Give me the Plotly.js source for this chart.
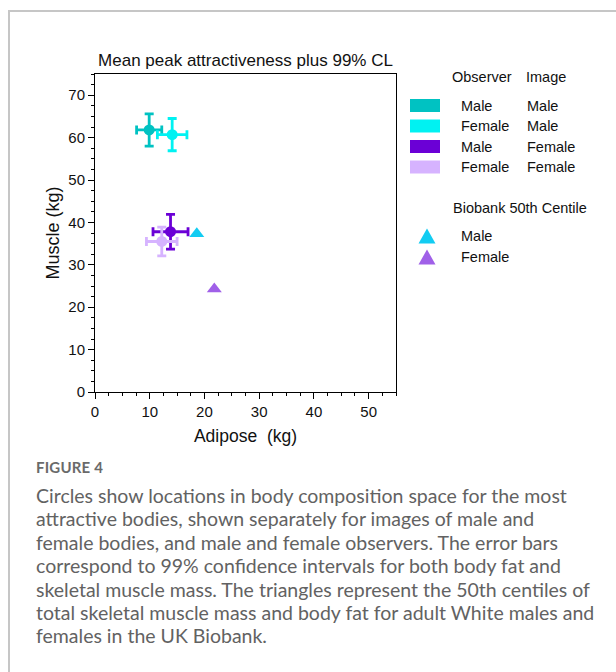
<!DOCTYPE html>
<html>
<head>
<meta charset="utf-8">
<script src="https://cdn.plot.ly/plotly-3.0.1.min.js"></script>
<style>
  html, body { margin:0; padding:0; background:#fff; width:616px; height:672px; overflow:hidden; }
  #frame { position:absolute; left:8px; top:10px; width:700px; height:700px;
           border-left:2px solid #c6c6c6; border-top:2px solid #c6c6c6; }
  #chart { position:absolute; left:0; top:0; width:616px; height:450px; }
  #caption { position:absolute; left:36px; top:457px; font-family:Lato, "Open Sans", sans-serif;
             color:#626262; white-space:nowrap; }
  #caption .fig { font-size:15px; font-weight:700; color:#6a6a6a; line-height:20px; letter-spacing:0.2px; }
  #caption .txt { font-size:19.5px; line-height:23.4px; margin-top:7px; }
</style>
</head>
<body>
<div id="frame"></div>
<div id="chart"></div>
<div id="caption">
  <div class="fig">FIGURE 4</div>
  <div class="txt">Circles show locations in body composition space for the most<br>attractive bodies, shown separately for images of male and<br>female bodies, and male and female observers. The error bars<br>correspond to 99% confidence intervals for both body fat and<br>skeletal muscle mass. The triangles represent the 50th centiles of<br>total skeletal muscle mass and body fat for adult White males and<br>females in the UK Biobank.</div>
</div>
<script>
// ---- data ----
const observer = ['Male', 'Female', 'Male', 'Female'];
const image = ['Male', 'Male', 'Female', 'Female'];
const adipose = [9.9, 14.1, 13.8, 12.2];
const adiposeCI = [2.3, 2.7, 3.2, 2.8];
const muscle = [61.8, 60.7, 37.8, 35.5];
const muscleCI = [3.8, 3.8, 4.1, 3.4];

const biobankSex = ['Male', 'Female'];
const biobankAdipose = [18.6, 21.8];
const biobankMuscle = [37.3, 24.3];

const xTicks = [0, 10, 20, 30, 40, 50];
const yTicks = [0, 10, 20, 30, 40, 50, 60, 70];

// ---- styles ----
const groupColors = ['#00C2C2', '#00F2F2', '#6B00D6', '#D6B3FF'];
const biobankColors = ['#12CCF2', '#A060E8'];
const FONT = '"Liberation Sans", Arial, sans-serif';

const W = 616, H = 450;
const M = {l: 95, r: 220, t: 74, b: 58};
const pw = W - M.l - M.r, ph = H - M.t - M.b;
const fx = px => (px - M.l) / pw;
const fy = py => (H - M.b - py) / ph;

const traces = [];
for (let i = 0; i < adipose.length; i++) {
  traces.push({
    type: 'scatter', mode: 'markers',
    x: [adipose[i]], y: [muscle[i]],
    name: observer[i] + ' / ' + image[i],
    marker: {color: groupColors[i], size: 11},
    error_x: {type: 'data', array: [adiposeCI[i]], visible: true, color: groupColors[i], thickness: 2.8, width: 4.5},
    error_y: {type: 'data', array: [muscleCI[i]], visible: true, color: groupColors[i], thickness: 2.8, width: 4.5},
    showlegend: false
  });
}
for (let i = 0; i < biobankSex.length; i++) {
  traces.push({
    type: 'scatter', mode: 'markers',
    x: [biobankAdipose[i]], y: [biobankMuscle[i]],
    name: 'Biobank ' + biobankSex[i],
    marker: {color: biobankColors[i], size: 13, symbol: 'triangle-up'},
    showlegend: false
  });
}

const annotations = [];
const shapes = [];
const txt = (t, px, py, extra) => Object.assign({
  text: t, xref: 'paper', yref: 'paper', x: fx(px), y: fy(py),
  xanchor: 'left', yanchor: 'middle', showarrow: false,
  font: {family: FONT, size: 14.5, color: '#111'}
}, extra || {});

annotations.push(txt('Observer', 450, 77));
annotations.push(txt('Image', 524, 77));
const rowY = [105.5, 126, 146.5, 167];
for (let i = 0; i < observer.length; i++) {
  annotations.push(txt(observer[i], 459, rowY[i]));
  annotations.push(txt(image[i], 525, rowY[i]));
  shapes.push({type: 'rect', xref: 'paper', yref: 'paper',
    x0: fx(410), x1: fx(440), y0: fy(rowY[i] + 6.5), y1: fy(rowY[i] - 6.5),
    fillcolor: groupColors[i], line: {width: 0}});
}
annotations.push(txt('Biobank 50th Centile', 451, 208));
const triY = [236, 257];
for (let i = 0; i < biobankSex.length; i++) {
  annotations.push(txt(biobankSex[i], 459, triY[i]));
  const cx = 427, cy = triY[i];
  const p = [[cx - 8.5, cy + 7.5], [cx + 8.5, cy + 7.5], [cx, cy - 7.5]];
  shapes.push({type: 'path', xref: 'paper', yref: 'paper',
    path: 'M' + p.map(q => fx(q[0]) + ',' + fy(q[1])).join(' L') + ' Z',
    fillcolor: biobankColors[i], line: {width: 0}});
}

const axisCommon = {
  showgrid: false, zeroline: false, showline: true, linecolor: '#000', linewidth: 1,
  mirror: true, ticks: 'outside', ticklen: 6, tickwidth: 1, tickcolor: '#000',
  tickfont: {family: FONT, size: 15, color: '#111'},
  minor: {dtick: 2.5, ticks: 'outside', ticklen: 3, tickcolor: '#000', tickwidth: 1, showgrid: false},
  fixedrange: true, automargin: false
};

const layout = {
  width: W, height: H,
  margin: M,
  paper_bgcolor: 'rgba(0,0,0,0)', plot_bgcolor: '#fff',
  showlegend: false,
  title: {text: 'Mean peak attractiveness plus 99% CL', font: {family: FONT, size: 17, color: '#111'},
          xref: 'paper', x: 0.5, xanchor: 'center', yref: 'container', y: 1 - 60 / H, yanchor: 'middle'},
  xaxis: Object.assign({}, axisCommon, {
    range: [0, 55], tickvals: xTicks, ticktext: xTicks.map(String),
    title: {text: 'Adipose\u00A0\u00A0(kg)', font: {family: FONT, size: 17.5, color: '#111'}, standoff: 10}
  }),
  yaxis: Object.assign({}, axisCommon, {
    range: [0, 75], tickvals: yTicks, ticktext: yTicks.map(String),
    title: {text: 'Muscle (kg)', font: {family: FONT, size: 18, color: '#111'}, standoff: 4}
  }),
  annotations: annotations,
  shapes: shapes
};

Plotly.newPlot('chart', traces, layout, {staticPlot: true, displayModeBar: false});
</script>
</body>
</html>
